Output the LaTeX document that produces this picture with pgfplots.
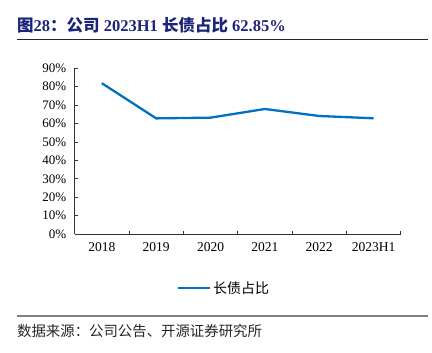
\documentclass[border=0pt]{standalone}
\usepackage{pgfplots}
\pgfplotsset{compat=1.18}
\usepackage{fontspec}
\setmainfont{Liberation Serif}
\newfontfamily\cjk{Noto Sans CJK SC}
\definecolor{titlenavy}{RGB}{28,36,122}
\definecolor{lineblue}{RGB}{0,112,192}
\begin{document}
\begin{tikzpicture}[x=1bp,y=1bp]
\path (0,0) rectangle (432,353);
% title
\node[anchor=west,inner sep=0,text=titlenavy,font=\fontsize{16.5bp}{18bp}\selectfont\bfseries] at (17,328)
  {{\cjk 图}28{\cjk ：公司} 2023H1 {\cjk 长债占比} 62.85\%};
\draw[line width=1bp,black!85] (17,313) -- (428,313);
\begin{axis}[
  at={(74.7bp,119bp)}, anchor=south west,
  scale only axis, width=326bp, height=165.7bp,
  xmin=-0.5, xmax=5.5, ymin=0, ymax=90,
  axis x line=bottom, axis y line=left,
  axis line style={-, black!80, line width=0.8bp},
  tick align=inside, major tick length=3bp,
  tick style={black!80, line width=0.8bp},
  xtick={-0.5,0.5,1.5,2.5,3.5,4.5,5.5},
  x tick label as interval,
  xticklabels={2018,2019,2020,2021,2022,2023H1},
  ytick={0,10,...,90},
  yticklabel={\pgfmathprintnumber{\tick}\%},
  /pgf/number format/assume math mode=true,
  x tick label style={font=\fontsize{13.5bp}{15bp}\selectfont, yshift=-5bp},
  y tick label style={font=\fontsize{13bp}{14bp}\selectfont, xshift=-5bp},
  legend style={at={(0.3147,-0.3277)}, anchor=west, draw=none, fill=none, inner sep=0pt, outer sep=0pt,
    font=\cjk\fontsize{14bp}{16bp}\selectfont, nodes={inner sep=1.5bp}},
  legend image code/.code={\draw[#1] (0bp,0bp) -- (32bp,0bp);},
  clip=false,
]
\addplot[lineblue, line width=2.3bp, mark=none] coordinates {
  (0,81.9) (1,62.8) (2,63.2) (3,67.9) (4,64.1) (5,62.85)
};
\addlegendentry{长债占比}
\end{axis}
\draw[line width=1.5bp,black!50] (17,37) -- (428,37);
\node[anchor=west,inner sep=0,font=\cjk\fontsize{14.4bp}{16bp}\selectfont,text=black!85] at (17,22)
  {数据来源：公司公告、开源证券研究所};
\end{tikzpicture}
\end{document}
